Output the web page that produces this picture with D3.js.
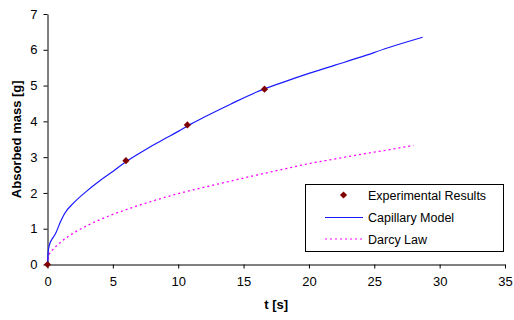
<!DOCTYPE html>
<html>
<head>
<meta charset="utf-8">
<script src="https://cdn.jsdelivr.net/npm/d3@7"></script>
<style>
  body { margin: 0; background: #fff; }
  svg { font-family: "Liberation Sans", Arial, sans-serif; }
</style>
</head>
<body>
<div id="chart"></div>
<script>
// experimental points
const expT = [0, 6.0, 10.7, 16.6];
const expMass = [0, 2.9, 3.9, 4.9];

// capillary model curve
const capT = [0, 0.05, 0.15, 0.3, 0.6, 1.0, 1.3, 2, 3, 4, 5, 6, 7, 8, 9, 10, 11, 12, 14, 16, 18, 20, 22, 24, 26, 28.7];
const capMass = [0, 0.35, 0.55, 0.68, 0.85, 1.2, 1.42, 1.72, 2.05, 2.34, 2.6, 2.87, 3.1, 3.32, 3.52, 3.72, 3.93, 4.12, 4.48, 4.82, 5.09, 5.34, 5.57, 5.8, 6.05, 6.35];

// darcy law curve
const darcyT = [0, 0.1, 0.5, 1, 2, 3, 4, 5, 6, 8, 10, 12, 14, 16, 18, 20, 22, 24, 26, 28];
const darcyMass = [0, 0.25, 0.45, 0.62, 0.88, 1.08, 1.25, 1.4, 1.53, 1.77, 1.98, 2.16, 2.33, 2.5, 2.66, 2.82, 2.95, 3.08, 3.2, 3.33];

const xTicks = [0, 5, 10, 15, 20, 25, 30, 35];
const yTicks = [0, 1, 2, 3, 4, 5, 6, 7];
const seriesNames = ['Experimental Results', 'Capillary Model', 'Darcy Law'];

const width = 514, height = 320;
const plotLeft = 47.5, plotRight = 505, plotTop = 14, plotBottom = 264.5;

const svg = d3.select('#chart').append('svg')
  .attr('width', width)
  .attr('height', height);

const x = d3.scaleLinear().domain([0, 35]).range([plotLeft, plotRight]);
const y = d3.scaleLinear().domain([0, 7]).range([plotBottom, plotTop]);

// axes
const xAxis = svg.append('g')
  .attr('transform', `translate(0,${plotBottom})`)
  .call(d3.axisBottom(x).tickValues(xTicks).tickFormat(d3.format('d'))
    .tickSize(4).tickPadding(8).tickSizeOuter(0));
const yAxis = svg.append('g')
  .attr('transform', `translate(${plotLeft},0)`)
  .call(d3.axisLeft(y).tickValues(yTicks).tickFormat(d3.format('d'))
    .tickSize(4).tickPadding(6).tickSizeOuter(0));

[xAxis, yAxis].forEach(ax => {
  ax.select('.domain').attr('stroke', '#000');
  ax.selectAll('.tick line').attr('stroke', '#000');
  ax.selectAll('.tick text')
    .attr('fill', '#000')
    .style('font-size', '13px')
    .style('font-family', '"Liberation Sans", Arial, sans-serif');
});

// axis titles
svg.append('text')
  .attr('x', (plotLeft + plotRight) / 2)
  .attr('y', 309)
  .attr('text-anchor', 'middle')
  .style('font-size', '13px')
  .style('font-weight', 'bold')
  .text('t [s]');

svg.append('text')
  .attr('transform', `translate(21,${(plotTop + plotBottom) / 2}) rotate(-90)`)
  .attr('text-anchor', 'middle')
  .style('font-size', '13px')
  .style('font-weight', 'bold')
  .text('Absorbed mass [g]');

// lines
const line = d3.line().x(d => x(d[0])).y(d => y(d[1])).curve(d3.curveMonotoneX);

svg.append('path')
  .datum(darcyT.map((t, i) => [t, darcyMass[i]]))
  .attr('d', line)
  .attr('fill', 'none')
  .attr('stroke', '#ff00ff')
  .attr('stroke-width', 1.3)
  .attr('stroke-dasharray', '2,3');

svg.append('path')
  .datum(capT.map((t, i) => [t, capMass[i]]))
  .attr('d', line)
  .attr('fill', 'none')
  .attr('stroke', '#1a1aff')
  .attr('stroke-width', 1.2);

// diamond = square turned 45 degrees
const marker = d3.symbol().type(d3.symbolSquare).size(26);

svg.append('g').selectAll('path')
  .data(expT.map((t, i) => [t, expMass[i]]))
  .join('path')
  .attr('d', marker)
  .attr('transform', d => `translate(${x(d[0])},${y(d[1])}) rotate(45)`)
  .attr('fill', '#800000');

// legend
const legend = svg.append('g');
legend.append('rect')
  .attr('x', 305.5).attr('y', 184.5)
  .attr('width', 198).attr('height', 67)
  .attr('fill', '#fff')
  .attr('stroke', '#000');

const rowY = [195, 217.5, 239];
seriesNames.forEach((name, i) => {
  const g = legend.append('g');
  if (i === 0) {
    g.append('path').attr('d', marker)
      .attr('transform', `translate(343.5,${rowY[i]}) rotate(45)`)
      .attr('fill', '#800000');
  } else {
    g.append('line')
      .attr('x1', 325).attr('x2', 363)
      .attr('y1', rowY[i]).attr('y2', rowY[i])
      .attr('stroke', i === 1 ? '#1a1aff' : '#ff00ff')
      .attr('stroke-width', 1.2)
      .attr('stroke-dasharray', i === 2 ? '2,3' : null);
  }
  g.append('text')
    .attr('x', 368).attr('y', rowY[i] + 4.5)
    .style('font-size', '12.5px')
    .text(name);
});
</script>
</body>
</html>
